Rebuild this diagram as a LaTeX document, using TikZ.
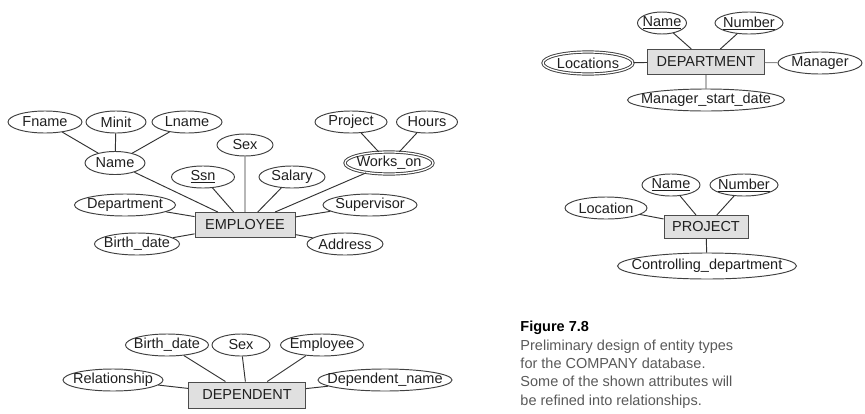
\documentclass[tikz,border=0pt]{standalone}
\usepackage{fontspec}
\setmainfont{Liberation Sans}
\usepackage{tikz}
\usepackage{xcolor}
\usetikzlibrary{shapes}

\newcommand{\lbl}[1]{\makebox[0pt]{#1}}

\tikzset{
    attr/.style={ellipse, draw=black!75, inner sep=0pt, minimum height=22, minimum width=#1},
    multi/.style={double, double distance=1.3pt},
    entity/.style={rectangle, draw=black!70, fill=black!12, inner sep=0pt, minimum height=25, minimum width=#1},
    conn/.style={draw=black!80},
}

\begin{document}
\begin{tikzpicture}[x=1pt, y=-1pt, line width=0.95pt, text=black!88, font=\fontsize{14.5}{17}\selectfont]
        \useasboundingbox (0, 0) rectangle (865, 413);

        % EMPLOYEE
        \node[entity=100] (employee) at (245, 225) {EMPLOYEE};
        \node[attr=74] (fname) at (45, 122) {\lbl{Fname}};
        \node[attr=60] (minit) at (116, 122) {\lbl{Minit}};
        \node[attr=70] (lname) at (187, 122) {\lbl{Lname}};
        \node[attr=60, minimum height=23] (name) at (115, 163) {\lbl{Name}};
        \node[attr=56] (sex) at (245, 145) {\lbl{Sex}};
        \node[attr=63] (ssn) at (203, 177) {\lbl{\underline{Ssn}}};
        \node[attr=66] (salary) at (292, 177) {\lbl{Salary}};
        \node[attr=72] (project) at (351, 122) {\lbl{Project}};
        \node[attr=61] (hours) at (427, 122) {\lbl{Hours}};
        \node[attr=88, multi] (workson) at (389, 163) {\lbl{Works\_on}};
        \node[attr=101] (department) at (125, 205) {\lbl{Department}};
        \node[attr=94] (supervisor) at (370, 205) {\lbl{Supervisor}};
        \node[attr=85] (birthdate) at (137, 244) {\lbl{Birth\_date}};
        \node[attr=76] (address) at (345, 244) {\lbl{Address}};

        \draw[conn] (fname) to (name)
            (minit) to (name)
            (lname) to (name)
            (name) to (employee)
            (ssn) to (employee)
            (sex) to (employee)
            (salary) to (employee)
            (project) to (workson)
            (hours) to (workson)
            (workson) to (employee)
            (department) to (employee)
            (supervisor) to (employee)
            (birthdate) to (employee)
            (address) to (employee);

        % DEPARTMENT
        \node[entity=117] (dept) at (706, 62) {DEPARTMENT};
        \node[attr=49] (dname) at (662, 23) {\lbl{\underline{Name}}};
        \node[attr=68] (dnumber) at (749, 23) {\lbl{\underline{Number}}};
        \node[attr=90, multi] (locations) at (588, 63) {\lbl{Locations}};
        \node[attr=84] (manager) at (820, 63) {\lbl{Manager}};
        \node[attr=157] (mgrstart) at (706, 100) {\lbl{Manager\_start\_date}};

        \draw[conn] (dname) to (dept)
            (dnumber) to (dept)
            (locations) to (dept)
            (mgrstart) to (dept);
        \draw[conn, draw=black!45] (manager) to (dept);

        % PROJECT
        \node[entity=84, minimum height=23] (proj) at (706, 227) {PROJECT};
        \node[attr=58] (pname) at (671, 185) {\lbl{\underline{Name}}};
        \node[attr=68] (pnumber) at (744, 185) {\lbl{\underline{Number}}};
        \node[attr=82] (location) at (606, 208) {\lbl{Location}};
        \node[attr=179, minimum height=26] (ctrldept) at (707, 266) {\lbl{Controlling\_department}};

        \draw[conn] (pname) to (proj)
            (pnumber) to (proj)
            (location) to (proj)
            (ctrldept) to (proj);

        % DEPENDENT
        \node[entity=117, minimum height=26] (dependent) at (247, 395) {DEPENDENT};
        \node[attr=83] (depbirth) at (167, 345) {\lbl{Birth\_date}};
        \node[attr=58] (depsex) at (241, 345) {\lbl{Sex}};
        \node[attr=83] (depemployee) at (322, 345) {\lbl{Employee}};
        \node[attr=100] (relationship) at (113, 380) {\lbl{Relationship}};
        \node[attr=134] (depname) at (385, 380) {\lbl{Dependent\_name}};

        \draw[conn] (depbirth) to (dependent)
            (depsex) to (dependent)
            (depemployee) to (dependent)
            (relationship) to (dependent)
            (depname) to (dependent);

        % caption
        \node[anchor=north west, align=left, inner sep=0pt, font=\fontsize{14.5}{18.3}\selectfont] (caption) at (520, 321)
            {\textbf{\color{black}Figure 7.8}\\
            \color{black!65}Preliminary design of entity types\\
            \color{black!65}for the COMPANY database.\\
            \color{black!65}Some of the shown attributes will\\
            \color{black!65}be refined into relationships.};
\end{tikzpicture}
\end{document}
